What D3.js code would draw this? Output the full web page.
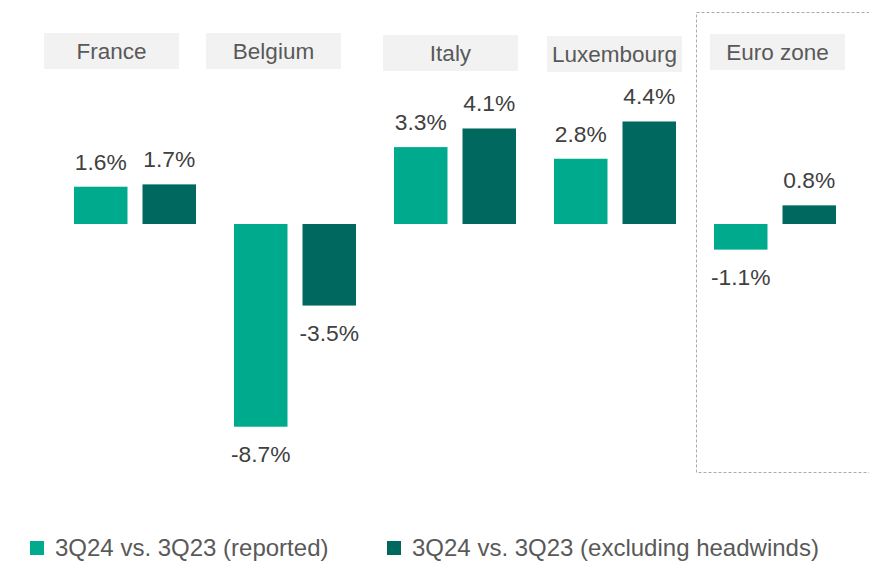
<!DOCTYPE html>
<html>
<head>
<meta charset="utf-8">
<script src="https://cdn.jsdelivr.net/npm/d3@7"></script>
<style>
  html, body { margin: 0; padding: 0; background: #fff; }
  svg { display: block; font-family: "Liberation Sans", Arial, sans-serif; }
</style>
</head>
<body>
<svg id="chart" width="869" height="561"></svg>
<script>
// ---- data ----
const categories = ["France", "Belgium", "Italy", "Luxembourg", "Euro zone"];
const seriesNames = ["3Q24 vs. 3Q23 (reported)", "3Q24 vs. 3Q23 (excluding headwinds)"];
const reported = [1.6, -8.7, 3.3, 2.8, -1.1];
const excludingHeadwinds = [1.7, -3.5, 4.1, 4.4, 0.8];

// ---- layout constants ----
const colors = ["#00AA8C", "#00685E"];
const headerDX = [-30, -28, -11, -7, -4];
const headerTop = [33, 33, 35, 36, 34];

const svg = d3.select("#chart");

const x = d3.scaleBand().domain(categories).range([74, 836]).paddingInner(0.2375).paddingOuter(0);
const xs = d3.scaleBand().domain([0, 1]).range([0, x.bandwidth()]).paddingInner(0.219);
const y = d3.scaleLinear().domain([-9, 5]).range([224 + 9 * 23.3, 224 - 5 * 23.3]);

// dashed euro zone box
svg.append("rect")
  .attr("x", 696.5).attr("y", 12.5)
  .attr("width", 200).attr("height", 460)
  .attr("fill", "none").attr("stroke", "#ababab")
  .attr("stroke-width", 1).attr("stroke-dasharray", "3,2");

// headers
const hdr = svg.append("g").selectAll("g").data(categories).join("g")
  .attr("transform", (d, i) => `translate(${x(d) + headerDX[i]},${headerTop[i]})`);
hdr.append("rect").attr("width", 135).attr("height", 36).attr("fill", "#f2f2f2");
hdr.append("text").attr("x", 67.5).attr("y", 26).attr("text-anchor", "middle")
  .attr("font-size", 22.5).attr("fill", "#595959").text(d => d);

// bars
const data = categories.map((c, i) => ({ c, vals: [reported[i], excludingHeadwinds[i]] }));
const grp = svg.append("g").selectAll("g").data(data).join("g")
  .attr("transform", d => `translate(${x(d.c)},0)`);

grp.selectAll("rect").data(d => d.vals).join("rect")
  .attr("x", (v, j) => xs(j))
  .attr("width", xs.bandwidth())
  .attr("y", v => Math.min(y(v), y(0)))
  .attr("height", v => Math.abs(y(v) - y(0)))
  .attr("fill", (v, j) => colors[j]);

grp.selectAll("text").data(d => d.vals).join("text")
  .attr("x", (v, j) => xs(j) + xs.bandwidth() / 2)
  .attr("y", v => v >= 0 ? y(v) - 17 : y(v) + 35)
  .attr("text-anchor", "middle")
  .attr("font-size", 22.8).attr("fill", "#404040")
  .text(v => v.toFixed(1) + "%");

// legend
const legX = [30, 387];
const leg = svg.append("g").selectAll("g").data(seriesNames).join("g")
  .attr("transform", (d, i) => `translate(${legX[i]},541)`);
leg.append("rect").attr("width", 14).attr("height", 14).attr("fill", (d, i) => colors[i]);
leg.append("text").attr("x", 25).attr("y", 15).attr("font-size", 24).attr("fill", "#595959")
  .text(d => d);
</script>
</body>
</html>
